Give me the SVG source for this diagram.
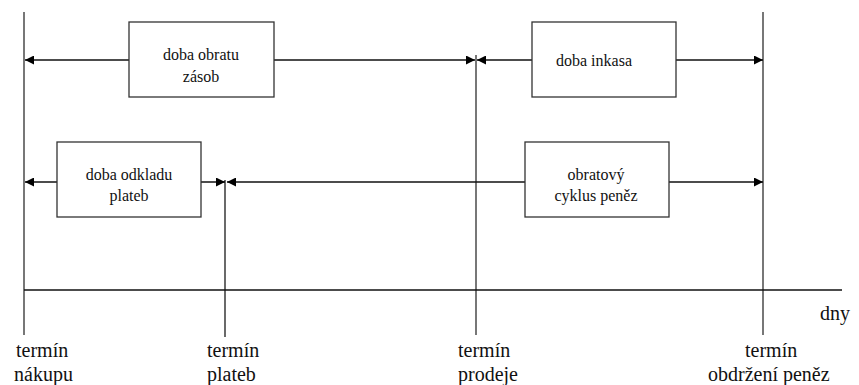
<svg xmlns="http://www.w3.org/2000/svg" width="859" height="385" viewBox="0 0 859 385">
<style>
.box{fill:#fff;stroke:#333;stroke-width:1.3}
.bt{font-family:'Liberation Serif','DejaVu Serif','Times New Roman',serif;font-size:16px;fill:#111;text-anchor:middle}
.lt{font-family:'Liberation Serif','DejaVu Serif','Times New Roman',serif;font-size:20px;fill:#111}
.con{stroke:#111;stroke-width:1.5;fill:none}
.vl{stroke:#777;stroke-width:2;fill:none}
</style>
<defs>
<marker id="ah" viewBox="0 0 10 10" refX="10" refY="5" markerWidth="10" markerHeight="9" markerUnits="userSpaceOnUse" orient="auto">
<path d="M0,0 L10,5 L0,10 Z" fill="#000"/>
</marker>
</defs>
<g id="timeline">
<line class="vl" x1="24" y1="12" x2="24" y2="335"/>
<line class="vl" x1="225" y1="180" x2="225" y2="337" style="stroke:#444;stroke-width:1.6"/>
<line class="vl" x1="476" y1="55" x2="476" y2="335"/>
<line class="vl" x1="763" y1="12" x2="763" y2="335"/>
<line x1="24" y1="290" x2="842" y2="290" stroke="#111" stroke-width="1.5"/>
<text class="lt" x="820" y="320" font-family="Liberation Serif, serif">dny</text>
</g>
<g id="connectors">
<line class="con" x1="129" y1="60" x2="25" y2="60" marker-end="url(#ah)"/>
<line class="con" x1="274" y1="60" x2="475" y2="60" marker-end="url(#ah)"/>
<line class="con" x1="532" y1="60" x2="477" y2="60" marker-end="url(#ah)"/>
<line class="con" x1="676" y1="60" x2="763" y2="60" marker-end="url(#ah)"/>
<line class="con" x1="57" y1="182" x2="25" y2="182" marker-end="url(#ah)"/>
<line class="con" x1="201" y1="182" x2="225" y2="182" marker-end="url(#ah)"/>
<line class="con" x1="525" y1="182" x2="227" y2="182" marker-end="url(#ah)"/>
<line class="con" x1="669" y1="182" x2="763" y2="182" marker-end="url(#ah)"/>
</g>
<g id="doba-obratu-zasob">
<rect class="box" x="129" y="22" width="145" height="75"/>
<text class="bt" x="201" y="60">doba obratu</text>
<text class="bt" x="201" y="82">zásob</text>
</g>
<g id="doba-inkasa">
<rect class="box" x="532" y="22" width="144" height="75"/>
<text class="bt" x="594" y="66">doba inkasa</text>
</g>
<g id="doba-odkladu-plateb">
<rect class="box" x="57" y="142" width="144" height="75"/>
<text class="bt" x="129" y="180">doba odkladu</text>
<text class="bt" x="129" y="201">plateb</text>
</g>
<g id="obratovy-cyklus-penez">
<rect class="box" x="525" y="142" width="144" height="75"/>
<text class="bt" x="596" y="180">obratový</text>
<text class="bt" x="596" y="201">cyklus peněz</text>
</g>
<g id="labels">
<text class="lt" x="16" y="357">termín</text>
<text class="lt" x="14" y="381">nákupu</text>
<text class="lt" x="207" y="357">termín</text>
<text class="lt" x="207" y="381">plateb</text>
<text class="lt" x="458" y="357">termín</text>
<text class="lt" x="458" y="381">prodeje</text>
<text class="lt" x="745" y="357">termín</text>
<text class="lt" x="708" y="381">obdržení peněz</text>
</g>
</svg>
